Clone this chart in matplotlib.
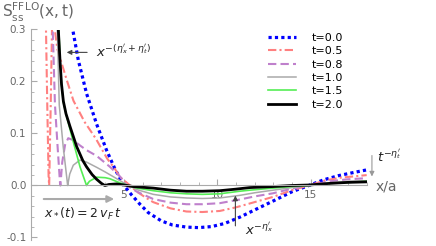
import numpy as np
import matplotlib
matplotlib.use("Agg")
import matplotlib.pyplot as plt
from matplotlib.ticker import MultipleLocator

# ---- data (x/a, S) ----
labels = ["t=0.0", "t=0.5", "t=0.8", "t=1.0", "t=1.5", "t=2.0"]

x_t00 = [2.15, 2.26, 2.56, 3.0, 3.54, 4.07, 4.52, 4.96, 5.41, 5.86, 6.3, 7.0, 7.6, 8.35, 9.0, 9.7, 10.4, 11.2, 12.0, 12.98, 14.0, 14.9, 15.7, 16.5, 17.3, 18.0]
y_t00 = [0.32, 0.30, 0.241, 0.177, 0.118, 0.068, 0.032, 0.002, -0.018, -0.036, -0.052, -0.068, -0.076, -0.080, -0.081, -0.079, -0.073, -0.061, -0.047, -0.030, -0.012, 0.0, 0.011, 0.019, 0.025, 0.030]

x_t05 = [0.82, 0.90, 0.97, 1.0, 1.08, 1.16, 1.22, 1.30, 1.44, 1.94, 2.3, 2.9, 3.5, 4.1, 4.5, 4.8, 5.3, 5.7, 6.2, 6.57, 7.5, 8.35, 9.2, 10.13, 11.0, 11.5, 12.98, 14.0, 14.9, 15.8, 16.6, 18.0]
y_t05 = [0.32, 0.15, 0.015, 0.0, 0.15, 0.32, 0.50, 0.30, 0.262, 0.203, 0.163, 0.122, 0.090, 0.052, 0.033, 0.016, 0.001, -0.012, -0.024, -0.032, -0.044, -0.050, -0.051, -0.049, -0.042, -0.037, -0.022, -0.009, 0.0, 0.010, 0.015, 0.020]

x_t08 = [1.17, 1.19, 1.31, 1.45, 1.58, 1.60, 1.70, 1.85, 2.02, 2.3, 2.65, 3.0, 3.54, 4.25, 4.8, 5.15, 5.7, 6.57, 7.5, 8.35, 9.2, 10.13, 11.2, 12.0, 12.98, 14.0, 14.9, 16.0, 17.0, 18.0]
y_t08 = [0.32, 0.30, 0.155, 0.075, 0.005, 0.0, 0.045, 0.078, 0.091, 0.087, 0.077, 0.068, 0.057, 0.036, 0.017, 0.0, -0.012, -0.026, -0.033, -0.036, -0.036, -0.034, -0.027, -0.021, -0.015, -0.006, 0.0, 0.008, 0.012, 0.014]

x_t10 = [1.42, 1.54, 1.75, 1.99, 2.1, 2.29, 2.65, 3.0, 3.54, 4.0, 4.43, 5.14, 5.7, 6.57, 7.5, 8.35, 9.2, 10.13, 11.2, 12.0, 12.98, 14.0, 14.9, 16.0, 17.0, 18.0]
y_t10 = [0.32, 0.155, 0.075, 0.0, 0.022, 0.039, 0.049, 0.045, 0.035, 0.026, 0.017, 0.002, -0.008, -0.017, -0.022, -0.024, -0.025, -0.024, -0.019, -0.014, -0.009, -0.004, 0.0, 0.005, 0.008, 0.009]

x_t15 = [1.50, 1.58, 1.66, 1.76, 1.94, 2.29, 2.65, 3.0, 3.15, 3.54, 4.0, 4.25, 4.79, 5.2, 5.7, 6.57, 7.5, 8.35, 9.2, 10.13, 11.2, 11.74, 12.98, 14.0, 14.9, 16.0, 17.0, 18.0]
y_t15 = [0.32, 0.24, 0.195, 0.16, 0.132, 0.084, 0.036, 0.0, 0.008, 0.016, 0.015, 0.013, 0.005, 0.0, -0.005, -0.010, -0.014, -0.016, -0.017, -0.016, -0.011, -0.009, -0.005, -0.002, 0.0, 0.004, 0.006, 0.008]

x_t20 = [1.46, 1.49, 1.58, 1.66, 1.76, 1.90, 2.11, 2.47, 2.8, 3.0, 3.3, 3.54, 3.8, 3.98, 4.2, 4.6, 5.0, 5.5, 6.57, 7.5, 8.35, 9.2, 10.13, 11.0, 11.74, 12.98, 14.0, 14.95, 16.0, 17.0, 18.0]
y_t20 = [0.32, 0.30, 0.24, 0.195, 0.162, 0.138, 0.114, 0.075, 0.048, 0.036, 0.021, 0.012, 0.004, 0.0, 0.002, 0.003, 0.001, -0.002, -0.005, -0.009, -0.011, -0.011, -0.010, -0.007, -0.004, -0.002, 0.0, 0.001, 0.004, 0.006, 0.007]

xs = [x_t00, x_t05, x_t08, x_t10, x_t15, x_t20]
ys = [y_t00, y_t05, y_t08, y_t10, y_t15, y_t20]

colors = ["#0000ff", "#ff8080", "#bf80cc", "#aaaaaa", "#55ee55", "#000000"]
styles = [(0, (1, 1)), (0, (4, 1.5, 1, 1.5)), (0, (4, 2)), "-", "-", "-"]
widths = [2.3, 1.5, 1.5, 1.1, 1.2, 2.0]

W, H = 436, 246
fig = plt.figure(figsize=(W / 100, H / 100), dpi=100)
ax = fig.add_axes([30.5 / W, 1 - 240.1 / H, 336.2 / W, 210.6 / H])
ax.patch.set_alpha(0)

handles = []
for x, y, c, s, w, lab in zip(xs, ys, colors, styles, widths, labels):
    h, = ax.plot(x, y, color=c, ls=s, lw=w, label=lab)
    handles.append(h)

ax.set_xlim(0, 18)
ax.set_ylim(-0.105, 0.30)

axc = "#aaaaaa"
for side in ["top", "right"]:
    ax.spines[side].set_visible(False)
ax.spines["left"].set_position(("data", 0))
ax.spines["bottom"].set_position(("data", 0))
for side in ["left", "bottom"]:
    ax.spines[side].set_color(axc)
    ax.spines[side].set_linewidth(0.8)

ax.xaxis.set_major_locator(MultipleLocator(5))
ax.xaxis.set_minor_locator(MultipleLocator(1))
ax.yaxis.set_major_locator(MultipleLocator(0.1))
ax.yaxis.set_minor_locator(MultipleLocator(0.02))
ax.set_xticks([5, 10, 15])
ax.set_xticklabels(["5", "10", "15"])
ax.set_yticks([-0.1, 0.0, 0.1, 0.2, 0.3])
ax.set_yticklabels(["-0.1", "0.0", "0.1", "0.2", "0.3"])
ax.tick_params(which="both", direction="in", color=axc, labelcolor="#666666", labelsize=7.5)
ax.tick_params(which="major", length=4, width=0.8)
ax.tick_params(which="minor", length=2.5, width=0.6)
ax.tick_params(axis="x", pad=3)
ax.tick_params(axis="y", pad=3)

# legend
leg = fig.legend(handles=handles, loc="upper left", bbox_to_anchor=(268 / W, 1 - 33 / H),
                 frameon=False, fontsize=8, handlelength=2.5, handletextpad=1.45,
                 labelspacing=0.3, borderpad=0, borderaxespad=0)

# annotations
ax.annotate("", xy=(1.79, 0.256), xytext=(3.18, 0.256),
            arrowprops=dict(arrowstyle="-|>", color="#444444", lw=0.8, mutation_scale=7))
ax.text(3.5, 0.257, r"$x^{-(\eta^\prime_x+\eta^\prime_t)}$", fontsize=9.5, va="center", ha="left", color="#222222")

ax.annotate("", xy=(10.97, -0.014), xytext=(10.97, -0.083),
            arrowprops=dict(arrowstyle="-|>", color="#444444", lw=0.8, mutation_scale=7))
ax.text(11.5, -0.086, r"$x^{-\eta^\prime_x}$", fontsize=9.5, va="center", ha="left", color="#222222")

ax.annotate("", xy=(18.28, 0.012), xytext=(18.28, 0.063), annotation_clip=False,
            arrowprops=dict(arrowstyle="-|>", color="#999999", lw=0.8, mutation_scale=7))
ax.text(18.55, 0.055, r"$t^{-\eta^\prime_t}$", fontsize=9.5, va="center", ha="left", color="#222222", clip_on=False)

ax.annotate("", xy=(4.63, -0.026), xytext=(0.56, -0.026),
            arrowprops=dict(arrowstyle="-|>", color="#aaaaaa", lw=1.5, mutation_scale=10))
ax.text(0.7, -0.055, r"$x_*(t) = 2\,v_F\,t$", fontsize=9, va="center", ha="left", color="#222222")

ax.text(18.5, -0.002, "x/a", fontsize=10, va="center", ha="left", color="#666666", clip_on=False)

fig.text(2 / W, 1 - 12 / H, r"$\mathregular{S_{ss}^{FFLO}(x,t)}$", fontsize=11, va="center", ha="left", color="#666666")

fig.savefig("out.png", dpi=100)
